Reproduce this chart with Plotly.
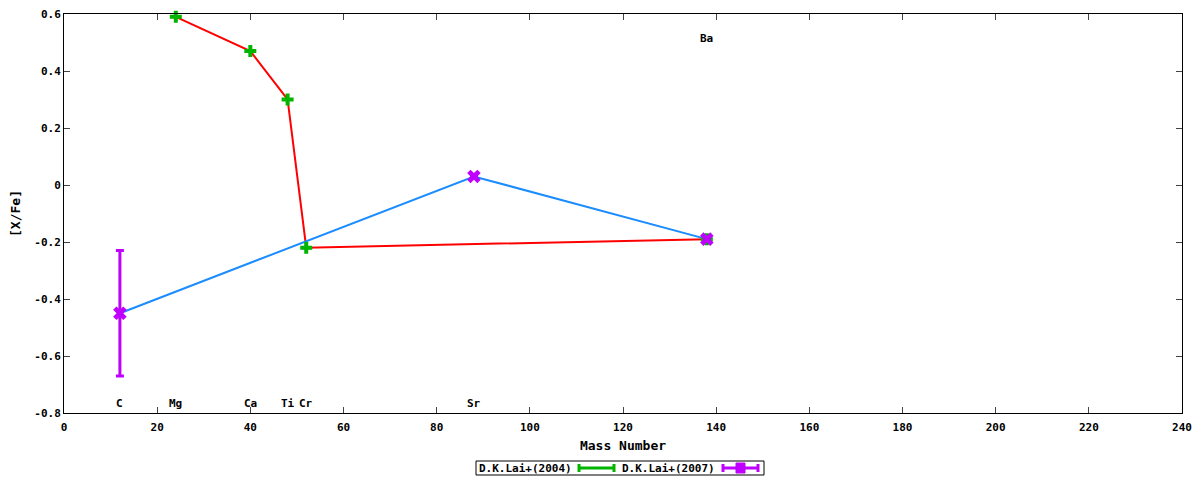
import plotly.graph_objects as go

# D.K.Lai+(2004)
mass_2004 = [24, 40, 48, 52, 138]
xfe_2004 = [0.59, 0.47, 0.30, -0.22, -0.19]
err_2004 = [0, 0, 0, 0, 0]

# D.K.Lai+(2007)
mass_2007 = [12, 88, 138]
xfe_2007 = [-0.45, 0.03, -0.19]
err_2007 = [0.22, 0, 0]

# element labels
elements = ["C", "Mg", "Ca", "Ti", "Cr", "Sr", "Ba"]
elem_mass = [12, 24, 40, 48, 52, 88, 138]
elem_y = [-0.765, -0.765, -0.765, -0.765, -0.765, -0.765, 0.515]

xticks = [0, 20, 40, 60, 80, 100, 120, 140, 160, 180, 200, 220, 240]
yticks = [-0.8, -0.6, -0.4, -0.2, 0, 0.2, 0.4, 0.6]
ylabels = ["-0.8", "-0.6", "-0.4", "-0.2", "0", "0.2", "0.4", "0.6"]

font = "DejaVu Sans Mono"
green = "#00b400"
purple = "#c000ff"

# figure size / margins (the page adds an 8px body margin)
W, H = 1192, 472
ML, MR, MT, MB = 56, 18, 6, 67
PW, PH = W - ML - MR, H - MT - MB


def px(x):
    return (x - ML) / PW


def py(y):
    return (H - MB - y) / PH


fig = go.Figure()
fig.add_trace(go.Scatter(x=mass_2004, y=xfe_2004, mode="lines", cliponaxis=False,
                         line=dict(color="#ff0000", width=2), showlegend=False))
fig.add_trace(go.Scatter(x=mass_2007, y=xfe_2007, mode="lines", cliponaxis=False,
                         line=dict(color="#1a8cff", width=2), showlegend=False))
fig.add_trace(go.Scatter(x=mass_2004, y=xfe_2004, mode="markers", name="D.K.Lai+(2004)",
                         cliponaxis=False, showlegend=False,
                         marker=dict(symbol="cross", size=10, color=green),
                         error_y=dict(type="data", array=err_2004, color=green,
                                      thickness=3, width=4)))
fig.add_trace(go.Scatter(x=mass_2007, y=xfe_2007, mode="markers", name="D.K.Lai+(2007)",
                         cliponaxis=False, showlegend=False,
                         marker=dict(symbol="x", size=12, color=purple),
                         error_y=dict(type="data", array=err_2007, color=purple,
                                      thickness=3, width=4)))

for name, m, yy in zip(elements, elem_mass, elem_y):
    fig.add_annotation(x=m, y=yy, text="<b>" + name + "</b>", showarrow=False,
                       font=dict(family=font, size=11, color="black"))

# gnuplot style key below the plot: text first, then the sample
fig.add_shape(type="rect", xref="paper", yref="paper",
              x0=px(468), x1=px(756), y0=py(453), y1=py(467),
              line=dict(color="black", width=1))
key = [("D.K.Lai+(2004)", green, 469, 571), ("D.K.Lai+(2007)", purple, 612, 715)]
for label, col, tx, sx in key:
    fig.add_annotation(xref="paper", yref="paper", x=px(tx), y=py(460),
                       xanchor="left", yanchor="middle", showarrow=False,
                       text="<b>" + label + "</b>",
                       font=dict(family=font, size=11, color="black"))
    fig.add_shape(type="line", xref="paper", yref="paper",
                  x0=px(sx), x1=px(sx + 35), y0=py(460), y1=py(460),
                  line=dict(color=col, width=3))
    for cx in (sx, sx + 35):
        fig.add_shape(type="line", xref="paper", yref="paper",
                      x0=px(cx), x1=px(cx), y0=py(456), y1=py(464),
                      line=dict(color=col, width=3))
    if col == purple:
        fig.add_shape(type="rect", xref="paper", yref="paper",
                      x0=px(sx + 13), x1=px(sx + 22), y0=py(455), y1=py(465),
                      line=dict(color=col, width=1), fillcolor=col)

fig.update_xaxes(range=[0, 240], tickvals=xticks,
                 ticktext=["<b>%d</b>" % v for v in xticks],
                 ticks="inside", ticklen=6, mirror="ticks", showline=True,
                 linecolor="black", linewidth=1, showgrid=False, zeroline=False,
                 automargin=False, ticklabelstandoff=4, ticklabeloverflow="allow",
                 title=dict(text="<b>Mass Number</b>", standoff=7),
                 tickfont=dict(family=font, size=11, color="black"))
fig.update_yaxes(range=[-0.8, 0.6], tickvals=yticks,
                 ticktext=["<b>" + s + "</b>" for s in ylabels],
                 ticks="inside", ticklen=6, mirror="ticks", showline=True,
                 linecolor="black", linewidth=1, showgrid=False, zeroline=False,
                 automargin=False, ticklabeloverflow="allow",
                 title=dict(text="<b>[X/Fe]</b>", standoff=14),
                 tickfont=dict(family=font, size=11, color="black"))

fig.update_layout(
    width=W, height=H,
    margin=dict(l=ML, r=MR, t=MT, b=MB, autoexpand=False),
    plot_bgcolor="white", paper_bgcolor="white",
    font=dict(family=font, size=11, color="black"),
    showlegend=False,
)

fig.write_html("out.html")
